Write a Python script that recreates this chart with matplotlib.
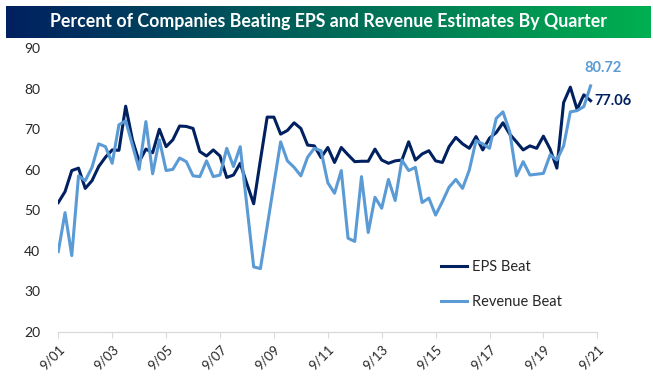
import numpy as np
import matplotlib
matplotlib.use('Agg')
import matplotlib.pyplot as plt
from matplotlib.colors import LinearSegmentedColormap

plt.rcParams['font.family'] = ['Lato', 'DejaVu Sans']

# quarterly readings, 9/01 .. 6/21
eps_beat = [51.9, 54.6, 59.8, 60.4, 55.4, 57.3, 60.8, 63.1, 64.9, 64.8,
            75.7, 67.4, 62.0, 65.1, 64.2, 70.0, 65.7, 67.4, 70.8, 70.7,
            70.2, 64.5, 63.4, 64.9, 63.4, 58.1, 58.7, 61.6, 56.5, 51.6,
            62.4, 73.0, 73.0, 68.8, 69.7, 71.6, 70.2, 66.1, 65.9, 63.0,
            65.5, 61.8, 65.5, 63.7, 62.0, 62.1, 62.1, 65.1, 62.4, 61.6,
            62.2, 62.4, 66.9, 62.4, 63.9, 64.7, 62.2, 61.8, 65.7, 68.0,
            66.4, 65.3, 68.2, 64.9, 67.8, 69.2, 71.6, 68.8, 66.9, 64.9,
            65.9, 65.3, 68.3, 65.1, 60.4, 76.6, 80.4, 74.9, 78.5, 77.06]

rev_beat = [39.8, 49.4, 38.8, 58.5, 57.3, 60.6, 66.4, 65.7, 61.6, 71.1,
            72.1, 66.1, 60.1, 71.9, 59.0, 67.4, 59.8, 60.1, 62.9, 62.0,
            58.5, 58.3, 62.2, 58.3, 58.7, 65.3, 60.8, 65.7, 51.0, 36.0,
            35.6, 46.0, 56.5, 66.9, 62.2, 60.6, 58.5, 63.1, 65.3, 64.7,
            56.8, 54.2, 59.8, 43.1, 42.3, 58.3, 44.5, 53.2, 50.5, 57.6,
            52.4, 62.4, 59.8, 60.6, 51.9, 53.0, 48.8, 52.1, 55.7, 57.6,
            55.4, 59.9, 67.2, 66.4, 65.3, 72.7, 74.3, 69.4, 58.5, 62.0,
            58.7, 58.9, 59.1, 63.7, 62.4, 65.9, 74.3, 74.6, 75.6, 80.72]

tick_labels = ['9/01', '9/03', '9/05', '9/07', '9/09', '9/11',
               '9/13', '9/15', '9/17', '9/19', '9/21']

navy = '#002060'
lightblue = '#5B9BD5'

fig = plt.figure(figsize=(6.53, 3.83), dpi=100)

# title banner with gradient
bax = fig.add_axes([6/653, 1 - 38/383, 644/653, 32/383])
grad = LinearSegmentedColormap.from_list('banner', [navy, '#00B050'])
bax.imshow(np.linspace(0, 1, 256).reshape(1, -1), aspect='auto', cmap=grad,
           extent=[0, 1, 0, 1])
bax.axis('off')
bax.text(0.5, 0.5, 'Percent of Companies Beating EPS and Revenue Estimates By Quarter',
         color='white', fontsize=12.8, fontweight='bold', ha='center', va='center',
         transform=bax.transAxes)

ax = fig.add_axes([58.3/653, 1 - 331.7/383, 539/653, 283.4/383])
x = np.arange(len(eps_beat))
ax.plot(x, eps_beat, color=navy, lw=2.2, label='EPS Beat')
ax.plot(x, rev_beat, color=lightblue, lw=2.2, label='Revenue Beat')

ax.set_xlim(0, 80)
ax.set_ylim(20, 90)
ax.set_yticks(range(20, 91, 10))
ax.set_xticks(range(0, 81, 8))
ax.set_xticklabels(tick_labels, rotation=45, ha='right', va='top',
                   rotation_mode='anchor')
for s in ['top', 'right', 'left']:
    ax.spines[s].set_visible(False)
ax.spines['bottom'].set_color('#d9d9d9')
ax.spines['bottom'].set_linewidth(0.9)
ax.tick_params(axis='y', length=0, pad=13, labelsize=10, labelcolor='#262626')
ax.tick_params(axis='x', length=4, color='#d9d9d9', pad=4, labelsize=9.5,
               labelcolor='#262626')

# end-point labels
ax.annotate(f'{rev_beat[-1]:.2f}', (x[-1], rev_beat[-1]), xytext=(9, 8),
            textcoords='offset points', color=lightblue, fontsize=10.5,
            fontweight='bold', ha='center', va='bottom')
ax.annotate(f'{eps_beat[-1]:.2f}', (x[-1], eps_beat[-1]), xytext=(3, 0),
            textcoords='offset points', color=navy, fontsize=10.5,
            fontweight='bold', ha='left', va='center')

leg = ax.legend(loc='upper left', bbox_to_anchor=(441/653, 1 - 260/383),
                bbox_transform=fig.transFigure, frameon=False, fontsize=10.5,
                handlelength=1.8, handletextpad=0.3, labelspacing=1.45,
                borderpad=0, borderaxespad=0)
for t in leg.get_texts():
    t.set_color('#262626')

plt.savefig('out.png', dpi=100)
